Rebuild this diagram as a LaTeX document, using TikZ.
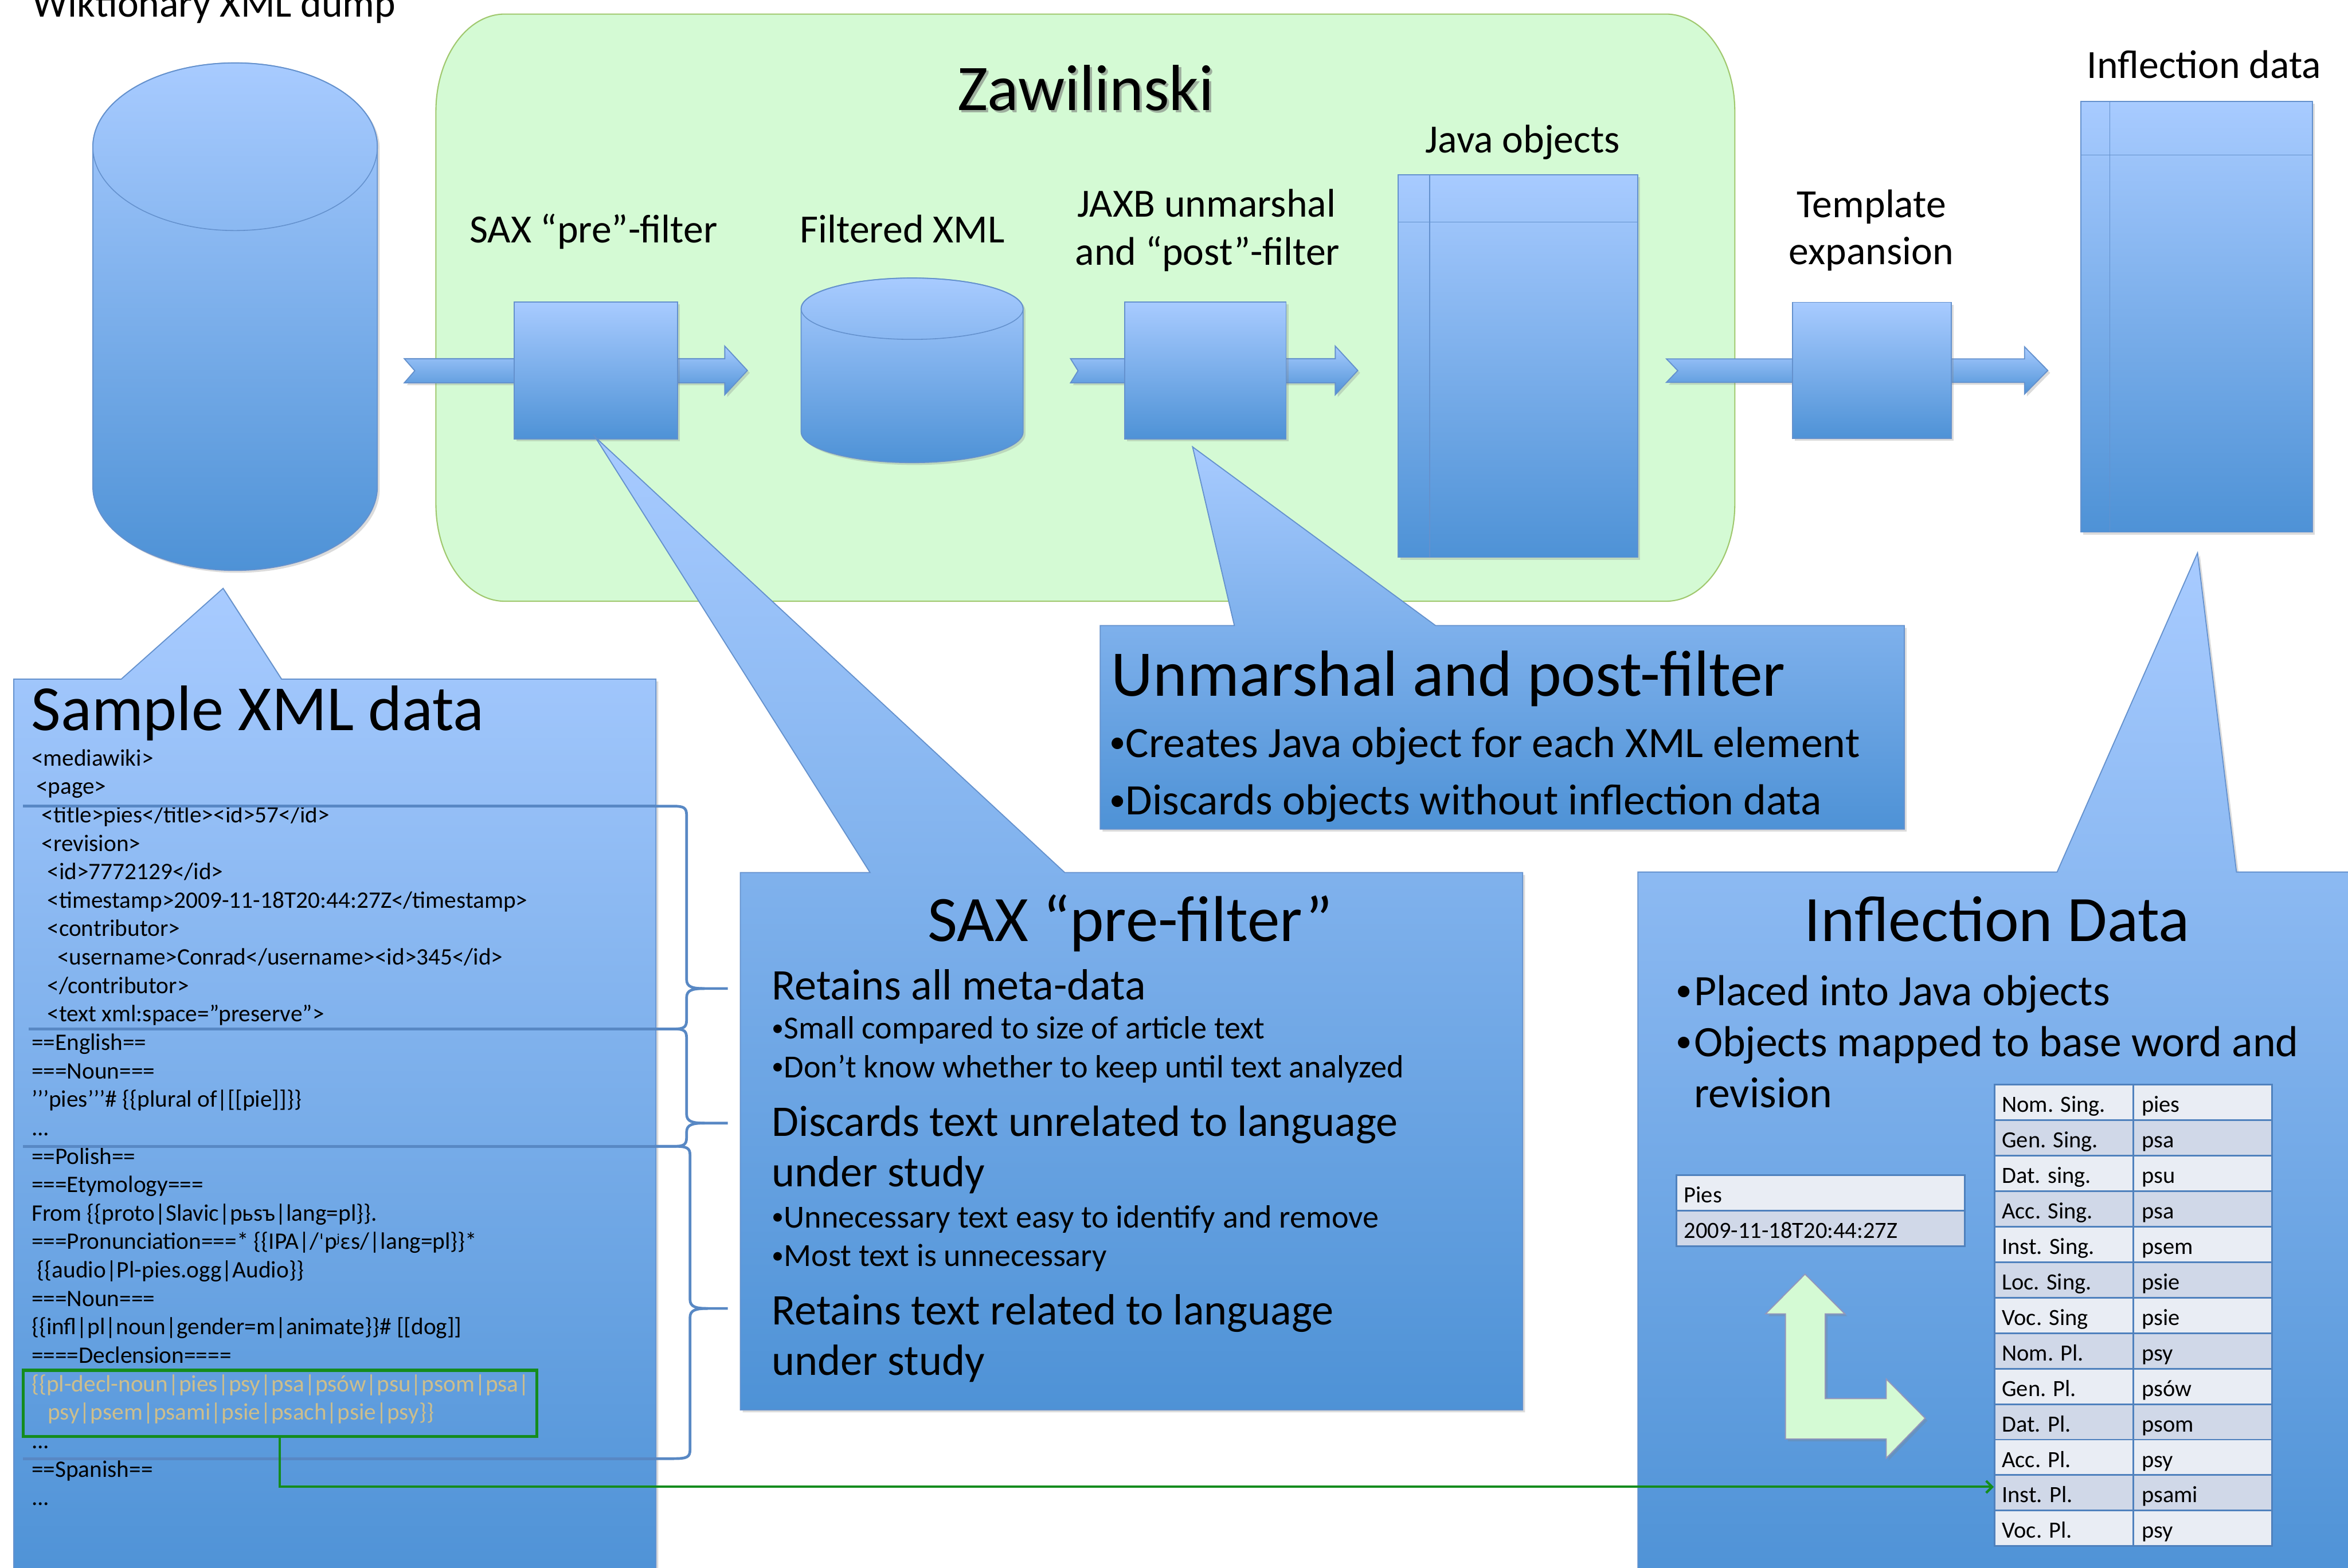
\documentclass[tikz,border=0pt]{standalone}
\usepackage{fontspec}
\setmainfont{Carlito}
\newfontfamily\ipafont{DejaVu Sans}[Scale=0.85]
\usetikzlibrary{shadows,arrows.meta,calc}

\definecolor{bTop}{RGB}{168,203,255}
\definecolor{bBot}{RGB}{78,146,214}
\definecolor{bEdge}{RGB}{100,145,205}
\definecolor{zBg}{RGB}{212,250,212}
\definecolor{zEdge}{RGB}{160,200,110}
\definecolor{brc}{RGB}{88,136,196}
\definecolor{declGreen}{RGB}{20,140,30}
\definecolor{declText}{RGB}{205,190,140}
\definecolor{rowL}{RGB}{233,237,244}
\definecolor{rowD}{RGB}{208,216,232}
\definecolor{tblEdge}{RGB}{79,129,189}
\definecolor{lEdge}{RGB}{150,150,185}

\newcommand\fsz[1]{\fontsize{#1bp}{#1bp}\selectfont}
% small list bullet
\newcommand\bul{\raisebox{0.1em}{\scalebox{0.75}{•}}}

\tikzset{
  bfill/.style={top color=bTop, bottom color=bBot, draw=bEdge, line width=0.7bp},
  shad/.style={drop shadow={shadow xshift=1.6bp, shadow yshift=-1.6bp, opacity=0.28}},
  txt/.style={inner sep=0pt, anchor=base west},
  ctxt/.style={inner sep=0pt, anchor=base},
  lbl/.style={ctxt, font=\fsz{26.7}},
  sepline/.style={draw=brc, line width=1.8bp},
  inner/.style={draw=bEdge, line width=0.6bp},
  cellbox/.style={draw=tblEdge, line width=1.1bp, inner sep=0pt, minimum height=23.7bp},
}

% block arrow with a notched tail: x0, notch, head start, tip, shaft top, shaft bottom, head top, head bottom
\newcommand\blkarrow[8]{%
  \path[bfill,shad] (#1,#5) -- (#3,#5) -- (#3,#7) -- (#4,{(#7+#8)/2}) -- (#3,#8) -- (#3,#6)
    -- (#1,#6) -- ({#1+#2},{(#5+#6)/2}) -- cycle;}

% right-facing curly brace: top y, cusp y, bottom y, x of the stem
\newcommand\xbrace[4]{%
  \draw[sepline, line join=round] (437,#1) -- (450,#1) .. controls ({#4-2},#1) and (#4,{#1+1}) .. (#4,{#1+6})
    -- (#4,{#2-6}) .. controls (#4,{#2-1}) and ({#4+4},#2) .. ({#4+12},#2) -- (486,#2);
  \draw[sepline, line join=round] ({#4+12},#2) .. controls ({#4+4},#2) and (#4,{#2+1}) .. (#4,{#2+6})
    -- (#4,{#3-6}) .. controls (#4,{#3-1}) and ({#4-2},#3) .. (450,#3) -- (437,#3);}

% one line of the XML sample: x, line number, text
\newcommand\xl[3]{\node[txt,font=\fsz{15.8}] at (#1,{511.5+19*(#2-1)}) {#3};}

\begin{document}
\begin{tikzpicture}[x=1bp,y=-1bp]
\useasboundingbox (0,0) rectangle (1568,1047);
\fill[white] (0,0) rectangle (1568,1047);

% ---------- Zawilinski container ----------
\path[fill=zBg, draw=zEdge, line width=0.8bp]
  (337.1,9.4) -- (1112.5,9.4) arc[start angle=270, end angle=360, x radius=46, y radius=65]
  -- (1158.5,336.6) arc[start angle=0, end angle=90, x radius=46, y radius=65]
  -- (337.1,401.6) arc[start angle=90, end angle=180, x radius=46, y radius=65]
  -- (291.1,74.4) arc[start angle=180, end angle=270, x radius=46, y radius=65] -- cycle;
\node[ctxt,font=\fsz{43.5},text=black!55,opacity=0.55] at (726.6,75.4) {Zawilinski};
\node[ctxt,font=\fsz{43.5}] (ztitle) at (725,73.8) {Zawilinski};

% ---------- Wiktionary dump cylinder ----------
\node[lbl] (dumplbl) at (143,11.4) {Wiktionary XML dump};
\path[bfill,shad] (62,98) -- (62,325) arc[start angle=180, end angle=0, x radius=95, y radius=56]
  -- (252,98) arc[start angle=0, end angle=-180, x radius=95, y radius=56] -- cycle;
\draw[inner] (157,98) ellipse[x radius=95, y radius=56];

% ---------- block arrows ----------
\blkarrow{270}{7}{484}{499.1}{239.6}{255.7}{231.2}{263.7}
\blkarrow{714.9}{5}{891.7}{906.7}{239.6}{255.7}{231.2}{263.7}
\blkarrow{1112.8}{7.6}{1352}{1367.5}{239.7}{255.4}{231.7}{263.2}

% ---------- processing stages ----------
\node[bfill,shad,minimum width=109.1bp,minimum height=91.5bp,inner sep=0] (sax) at (397.85,247.45) {};
\node[lbl] (saxlbl) at (396.3,162.3) {SAX “pre”-filter};

\path[bfill,shad] (535,206.2) -- (535,288.5) arc[start angle=180, end angle=0, x radius=74.1, y radius=20.5]
  -- (683.2,206.2) arc[start angle=0, end angle=-180, x radius=74.1, y radius=20.5] -- cycle;
\draw[inner] (609.1,206.2) ellipse[x radius=74.1, y radius=20.5];
\node[lbl] (fxlbl) at (602.6,162.3) {Filtered XML};

\node[bfill,shad,minimum width=107.8bp,minimum height=91.5bp,inner sep=0] (jaxb) at (804.9,247.45) {};
\node[lbl] at (805.8,144.9) {JAXB unmarshal};
\node[lbl] (jaxblbl) at (806.4,177) {and “post”-filter};

\node[bfill,shad,minimum width=160bp,minimum height=255.6bp,inner sep=0] (jobj) at (1013.7,244.5) {};
\draw[inner] (954.7,116.7) -- (954.7,372.3);
\draw[inner] (933.7,148.4) -- (1093.7,148.4);
\node[lbl] (jobjlbl) at (1016.8,102) {Java objects};

\node[bfill,shad,minimum width=106.1bp,minimum height=90.9bp,inner sep=0] (tmpl) at (1249.95,247.35) {};
\node[lbl] at (1249.7,145.1) {Template};
\node[lbl] (tmpllbl) at (1249.6,176.6) {expansion};

\node[bfill,shad,minimum width=154.7bp,minimum height=287.8bp,inner sep=0] (idata) at (1466.95,211.5) {};
\draw[inner] (1408.9,67.6) -- (1408.9,355.4);
\draw[inner] (1389.6,103.5) -- (1544.3,103.5);
\node[lbl] (idatalbl) at (1471.9,52.3) {Inflection data};

% ---------- callouts ----------
\path[bfill,shad] (9.2,453.6) -- (81,453.6) -- (149,393) -- (188,453.6) -- (438,453.6)
  -- (438,1060) -- (9.2,1060) -- cycle;
\path[bfill,shad] (494.4,582.8) -- (581,582.8) -- (397.5,292) -- (711,582.8) -- (1016.8,582.8)
  -- (1016.8,941.8) -- (494.4,941.8) -- cycle;
\path[bfill,shad] (734.7,417.8) -- (824.3,417.8) -- (796.4,298.5) -- (958.6,417.8) -- (1271.7,417.8)
  -- (1271.7,553.8) -- (734.7,553.8) -- cycle;
\path[bfill,shad] (1093.8,582.5) -- (1373.7,582.5) -- (1467.5,369.3) -- (1493.5,582.5) -- (1580,582.5)
  -- (1580,1060) -- (1093.8,1060) -- cycle;

% ---------- sample XML ----------
\node[txt,font=\fsz{43}] at (20.8,487.8) {Sample XML data};
\xl{20.9}{1}{<mediawiki>}
\xl{24}{2}{<page>}
\xl{27.7}{3}{<title>pies</title><id>57</id>}
\xl{27.7}{4}{<revision>}
\xl{31.4}{5}{<id>7772129</id>}
\xl{31.4}{6}{<timestamp>2009-11-18T20:44:27Z</timestamp>}
\xl{31.4}{7}{<contributor>}
\xl{38.2}{8}{<username>Conrad</username><id>345</id>}
\xl{31.4}{9}{</contributor>}
\xl{31.4}{10}{<text xml:space=\symbol{34}preserve\symbol{34}>}
\xl{20.9}{11}{==English==}
\xl{20.9}{12}{===Noun===}
\xl{20.9}{13}{\symbol{39}\symbol{39}\symbol{39}pies\symbol{39}\symbol{39}\symbol{39}\# \{\{plural of|[[pie]]\}\}}
\xl{20.9}{14}{...}
\xl{20.9}{15}{==Polish==}
\xl{20.9}{16}{===Etymology===}
\xl{20.9}{17}{From \{\{proto|Slavic|pьsъ|lang=pl\}\}.}
\xl{20.9}{18}{===Pronunciation===* \{\{IPA|/{\ipafont ˈ}p{\ipafont ʲɛ}s/|lang=pl\}\}*}
\xl{24.6}{19}{\{\{audio|Pl-pies.ogg|Audio\}\}}
\xl{20.9}{20}{===Noun===}
\xl{20.9}{21}{\{\{infl|pl|noun|gender=m|animate\}\}\# [[dog]]}
\xl{20.9}{22}{====Declension====}
\xl{20.9}{23}{\color{declText}\{\{pl-decl-noun|pies|psy|psa|psów|psu|psom|psa|}
\xl{31.7}{24}{\color{declText}psy|psem|psami|psie|psach|psie|psy\}\}}
\xl{20.9}{25}{...}
\xl{20.9}{26}{==Spanish==}
\xl{20.9}{27}{...}

% section separators and braces
\draw[sepline] (15.4,538.5) -- (438,538.5);
\draw[sepline] (19,687.3) -- (438,687.3);
\draw[sepline] (15.4,765.7) -- (438,765.7);
\draw[sepline] (15.4,974.3) -- (438,974.3);
\xbrace{538.5}{660.3}{687.3}{458.5}
\xbrace{687.3}{750.2}{765.7}{458.5}
\xbrace{765.7}{874}{974.3}{460.8}

\node[draw=declGreen, line width=2bp, minimum width=343bp, minimum height=44.3bp, inner sep=0] (decl) at (186.9,937.45) {};

% ---------- SAX pre-filter callout text ----------
\node[ctxt,font=\fsz{43.3}] at (754.7,628.8) {SAX “pre-filter”};
\node[txt,font=\fsz{29.2}] at (515.3,667.9) {Retains all meta-data};
\node[txt,font=\fsz{21.5}] at (515.3,694) {\bul Small compared to size of article text};
\node[txt,font=\fsz{21.5}] at (515.3,719.8) {\bul Don’t know whether to keep until text analyzed};
\node[txt,font=\fsz{29.2}] at (515.3,758.9) {Discards text unrelated to language};
\node[txt,font=\fsz{29.2}] at (515.3,792.6) {under study};
\node[txt,font=\fsz{21.5}] at (515.3,820) {\bul Unnecessary text easy to identify and remove};
\node[txt,font=\fsz{21.5}] at (515.3,845.9) {\bul Most text is unnecessary};
\node[txt,font=\fsz{29.2}] at (515.3,885) {Retains text related to language};
\node[txt,font=\fsz{29.2}] at (515.3,918.5) {under study};

% ---------- unmarshal callout text ----------
\node[txt,font=\fsz{43.5}] at (742,464.9) {Unmarshal and post-filter};
\node[txt,font=\fsz{29}] at (740.8,505.7) {\bul Creates Java object for each XML element};
\node[txt,font=\fsz{29}] at (740.8,544.2) {\bul Discards objects without inflection data};

% ---------- inflection data callout ----------
\node[ctxt,font=\fsz{43.3}] at (1333.7,628.7) {Inflection Data};
\node[txt,font=\fsz{29}] at (1118.9,671.5) {\bul};
\node[txt,font=\fsz{29}] at (1131,671.5) {Placed into Java objects};
\node[txt,font=\fsz{29}] at (1118.9,705.7) {\bul};
\node[txt,font=\fsz{29}] at (1131,705.7) {Objects mapped to base word and};
\node[txt,font=\fsz{29}] at (1131,739.8) {revision};

% base word / revision record
\node[cellbox,fill=rowL,minimum width=192.7bp,minimum height=23.7bp] (pies) at (1215.85,796.85) {};
\node[cellbox,fill=rowD,minimum width=192.7bp,minimum height=23.8bp] (rev) at (1215.85,820.6) {};
\node[txt,font=\fsz{15.5}] at (1124.4,803.4) {Pies};
\node[txt,font=\fsz{15.5}] at (1124.4,827) {2009-11-18T20:44:27Z};

% mapping arrow
\path[fill=zBg, draw=lEdge, line width=0.7bp, shad]
  (1205.4,851.1) -- (1232,877.6) -- (1218.9,877.6) -- (1218.9,934.2) -- (1259.6,934.2)
  -- (1259.6,921.1) -- (1285.6,947.3) -- (1259.6,974) -- (1259.6,961.1) -- (1192.3,961.1)
  -- (1192.3,877.6) -- (1179.1,877.6) -- cycle;

% declension table
\foreach \lab/\val [count=\i] in {Nom. Sing./pies, Gen. Sing./psa, Dat. sing./psu, Acc. Sing./psa,
    Inst. Sing./psem, Loc. Sing./psie, Voc. Sing/psie, Nom. Pl./psy, Gen. Pl./psów,
    Dat. Pl./psom, Acc. Pl./psy, Inst. Pl./psami, Voc. Pl./psy} {
  \ifodd\i \def\rc{rowL}\else \def\rc{rowD}\fi
  \pgfmathsetmacro\yt{724.6+23.7*(\i-1)}
  \node[cellbox,fill=\rc,minimum width=92.7bp] (ra\i) at (1378.35,{\yt+11.85}) {};
  \node[cellbox,fill=\rc,minimum width=92.7bp] (rb\i) at (1471.05,{\yt+11.85}) {};
  \node[txt,font=\fsz{15.5}] at (1336.7,{\yt+18.4}) {\lab};
  \node[txt,font=\fsz{15.5}] at (1430,{\yt+18.4}) {\val};
}

% declension template feeds the table
\draw[declGreen, line width=1.6bp, -{Straight Barb[length=4bp,width=8bp]}]
  (decl.south) |- ([yshift=4bp]ra12.west);

\end{tikzpicture}
\end{document}
